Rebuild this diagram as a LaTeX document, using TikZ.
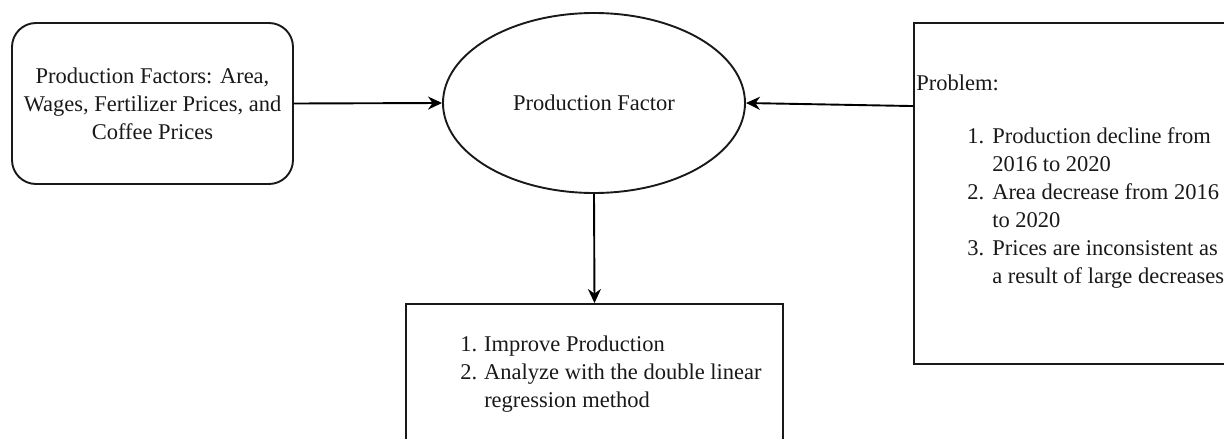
\documentclass[tikz,border=0pt]{standalone}
\usepackage{fontspec}
\setmainfont{Liberation Serif}
\usetikzlibrary{shapes.geometric,arrows.meta,calc}

\begin{document}
\begin{tikzpicture}[x=1pt,y=1pt,yscale=-1,
    every node/.style={font=\fontsize{22.5}{28}\selectfont,text=black!90},
    frame/.style={draw=black!90,line width=1.9pt},
    arr/.style={line width=1.9pt,-{Stealth[length=14pt,width=13pt,inset=4.5pt]}}]

    \useasboundingbox (0,0) rectangle (1224,439);
    \clip (0,0) rectangle (1224,439);

    % boxes
    \node[frame,rounded corners=24pt,minimum width=281pt,minimum height=161pt,align=center] (factors) at (152.5,103.5) {Production Factors: Area,\\Wages, Fertilizer Prices, and\\Coffee Prices};
    \node[frame,ellipse,minimum width=302pt,minimum height=180pt] (pf) at (594,103) {Production Factor};
    \node[frame,minimum width=336pt,minimum height=341pt] (problem) at (1082,193.5) {};
    \node[frame,minimum width=377pt,minimum height=160pt] (result) at (594.5,384) {};

    % texts
    \node[anchor=base west,inner sep=0pt] (ptitle) at ($(problem.north west)+(3,68)$) {Problem:};
    \node[anchor=base west,inner sep=0pt] (plist) at ($(problem.north west)+(54,121)$) {\begin{tabular}[t]{@{}p{25pt}@{}l@{}}
        1. & Production decline from\\
           & 2016 to 2020\\
        2. & Area decrease from 2016\\
           & to 2020\\
        3. & Prices are inconsistent as\\
           & a result of large decreases
      \end{tabular}};
    \node[anchor=base west,inner sep=0pt] (rlist) at ($(result.north west)+(55,48)$) {\begin{tabular}[t]{@{}p{24pt}@{}l@{}}
        1. & Improve Production\\
        2. & Analyze with the double linear\\
           & regression method
      \end{tabular}};

    % connectors
    \coordinate (pin) at ($(problem.north west)+(0,84)$);
    \draw[arr] (factors.east) -- (pf.west);
    \draw[arr] (pin) -- (pf.east);
    \draw[arr] (pf.south) -- (result.north);

\end{tikzpicture}
\end{document}
